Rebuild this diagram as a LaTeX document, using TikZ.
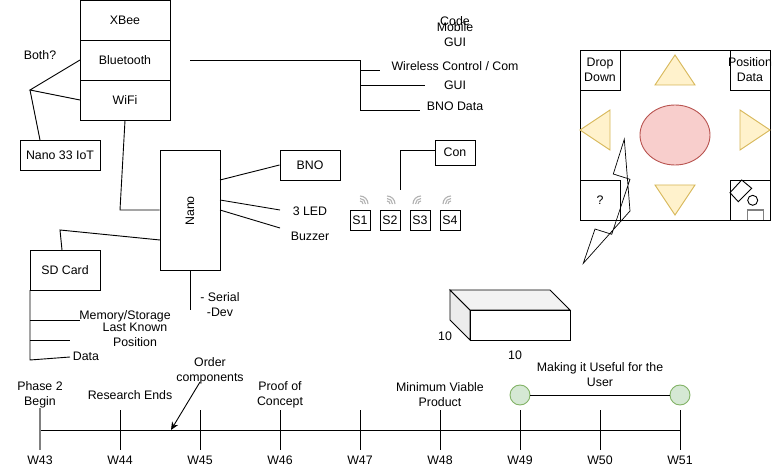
\documentclass[tikz,border=0pt]{standalone}
\usepackage{fontspec}
\setmainfont{Liberation Sans}
\usepackage{xcolor}
\usetikzlibrary{shapes,arrows,arrows.meta,positioning,calc}
\definecolor{yelFill}{HTML}{FFF2CC}
\definecolor{yelLine}{HTML}{D6B656}
\definecolor{redFill}{HTML}{F8CECC}
\definecolor{redLine}{HTML}{B85450}
\definecolor{grnFill}{HTML}{D5E8D4}
\definecolor{grnLine}{HTML}{82B366}

\begin{document}
\begin{tikzpicture}[
  x=1pt, y=-1pt, line width=0.9pt,
  font=\fontsize{12.35}{15}\selectfont,
  box/.style={rectangle, draw, inner sep=0pt, align=center},
  lbl/.style={inner sep=0pt, align=center},
  tri/.style={draw=yelLine, fill=yelFill, line join=miter},
  dot/.style={circle, draw=grnLine, fill=grnFill, minimum size=20pt, inner sep=0pt},
  sig/.style={gray!60, line width=1.1pt},
  arr/.style={-{Stealth[length=8pt,width=7pt]}}
]
\useasboundingbox (0,0) rectangle (772,476);

\node[box, minimum width=90pt, minimum height=40pt] (xbee) at (125,20)  {XBee};
\node[box, minimum width=90pt, minimum height=40pt] (blue) at (125,60)  {Bluetooth};
\node[box, minimum width=90pt, minimum height=40pt] (wifi) at (125,100) {WiFi};
\node[box, minimum width=80pt, minimum height=30pt] (iot)  at (60,155)  {Nano 33 IoT};
\node[lbl] (both) at (40,55) {Both?};
\node[box, minimum width=60pt, minimum height=120pt] (nano) at (190,210) {};
\node[lbl, rotate=90] (nanotxt) at (190,211) {Nano};
\node[box, minimum width=60pt, minimum height=30pt] (bno) at (310,165) {BNO};
\node[lbl] (led)    at (310,211) {3 LED};
\node[lbl] (buzzer) at (310,236) {Buzzer};
\node[box, minimum width=70pt, minimum height=40pt] (sd) at (65,270) {SD Card};
\node[lbl] (mem)  at (125,316) {Memory/Storage};
\node[lbl] (last) at (135,335) {Last Known\\Position};
\node[lbl] (data) at (86,356)  {Data};
\node[lbl] (serial) at (220,305) {- Serial\\-Dev};

\node[lbl] (code)   at (455,21) {Code};
\node[lbl] (mobile) at (455,35) {Mobile\\GUI};
\node[lbl] (wcom)   at (455,66) {Wireless Control / Com};
\node[lbl] (gui)    at (455,85) {GUI};
\node[lbl] (bnod)   at (455,106) {BNO Data};

\node[box, minimum width=40pt, minimum height=25pt] (con) at (455,152.5) {Con};
\node[box, minimum width=20pt, minimum height=20pt] (s1) at (360,220) {S1};
\node[box, minimum width=20pt, minimum height=20pt] (s2) at (390,220) {S2};
\node[box, minimum width=20pt, minimum height=20pt] (s3) at (420,220) {S3};
\node[box, minimum width=20pt, minimum height=20pt] (s4) at (450,220) {S4};

\coordinate (fork) at (30,90);
\coordinate (wifiend) at (120,210);
\coordinate (blueA) at (80,60);
\coordinate (wifiA) at (80,100);
\coordinate (iotA) at (40,140);
\coordinate (nanoA) at (220,180);
\coordinate (nanoB) at (220,200);
\coordinate (nanoC) at (220,210);
\coordinate (ledend) at (280,210);
\coordinate (buzend) at (280,228);
\coordinate (nanoD) at (160,240);
\coordinate (sdbend) at (60,230);
\coordinate (sdtop) at (62,250);
\coordinate (sdA) at (30,290);
\coordinate (sdB) at (30,320);
\coordinate (sdC) at (30,340);
\coordinate (sdD) at (30,360);
\coordinate (serend) at (190,310);
\coordinate (bus) at (190,60);
\coordinate (busA) at (360,60);
\coordinate (busB) at (360,70);
\coordinate (busC) at (360,85);
\coordinate (busD) at (360,110);
\coordinate (conA) at (435,150);
\coordinate (conend) at (400,190);

\draw (blueA) -- (fork) -- (wifiA);
\draw (fork) -- (iotA);
\draw (wifi.south) -- (wifiend) -- (nano.west);
\draw (nanoA) -- (bno.west);
\draw (nanoB) -- (ledend);
\draw (nanoC) -- (buzend);
\draw (nanoD) -- (sdbend) -- (sdtop);
\draw (sdA) -- (sdD) -- (70,357);
\draw (sdB) -- (80,320);
\draw (sdC) -- (70,340);
\draw (nano.south) -- (serend);
\draw (bus) -- (busA) -- (busD) -- (420,110);
\draw (busB) -- (380,70);
\draw (busC) -- (425,85);
\draw (conA) -- (400,150) -- (conend);

\foreach \ox in {360,387}
  \foreach \rr in {3,5.5,8}
    \draw[sig] ($(\ox,204)+(\rr pt,0pt)$) arc[start angle=0, end angle=90, radius=\rr pt];
\foreach \ox in {421,451}
  \foreach \rr in {3,5.5,8}
    \draw[sig] ($(\ox,204)+(0pt,\rr pt)$) arc[start angle=90, end angle=180, radius=\rr pt];

\node[box, minimum width=190pt, minimum height=170pt] (screen) at (675,135) {};
\node[box, minimum width=40pt, minimum height=40pt] (drop) at (600,70) {Drop\\Down};
\node[box, minimum width=40pt, minimum height=40pt] (pos)  at (750,70) {};
\node[lbl] (postxt) at (750,70) {Position\\Data};
\node[box, minimum width=40pt, minimum height=40pt] (quest) at (600,200) {?};
\node[box, minimum width=40pt, minimum height=40pt] (icons) at (750,200) {};
\node[ellipse, draw=redLine, fill=redFill, minimum width=70pt, minimum height=60pt] (joy) at (675,135) {};
\draw[tri] (675,55) -- (695,85) -- (655,85) -- cycle;
\draw[tri] (655,185) -- (695,185) -- (675,215) -- cycle;
\draw[tri] (580,130) -- (610,110) -- (610,150) -- cycle;
\draw[tri] (770,130) -- (740,110) -- (740,150) -- cycle;
\draw (741.7,180) -- (751.7,188.3) -- (738.3,201.7) -- (730,192.7) -- cycle;
\draw (752.7,200.3) circle[radius=5pt];
\draw[gray, line width=1.2pt] (747.7,220) -- (747.7,210) -- (763.3,210) -- (763.3,220);
\draw[line width=0.7pt] (624.3,139.3) -- (613.3,174) -- (630,179.3) -- (611.7,234.3)
  -- (595,229) -- (583.3,263.3) -- (630,211) -- cycle;

\draw[fill=gray!15] (450,290) -- (470,310) -- (470,340) -- (450,320) -- cycle;
\draw[fill=gray!10] (450,290) -- (550,290) -- (570,310) -- (470,310) -- cycle;
\node[box, minimum width=100pt, minimum height=30pt, fill=white] (brick) at (520,325) {};
\node[lbl] (depth) at (445,336) {10};
\node[lbl] (width) at (515,355) {10};

\coordinate (lineA) at (40,430);
\coordinate (lineB) at (680,430);
\draw (lineA) -- (lineB);
\draw[gray, line width=1.2pt] (40,408) -- (40,450);
\foreach \tx/\tn in {120/W44,200/W45,280/W46,360/W47,440/W48,520/W49,600/W50,680/W51}
  \draw (\tx,410) -- (\tx,450);
\foreach \tx/\tn in {40/W43,120/W44,200/W45,280/W46,360/W47,440/W48,520/W49,600/W50,680/W51}
  \node[lbl] (\tn) at (\tx,460) {\tn};

\node[lbl] (phase)  at (40,395)  {Phase 2\\Begin};
\node[lbl] (resend) at (130,395) {Research Ends};
\node[lbl] (order)  at (210,370.5) {Order\\components};
\node[lbl] (proof)  at (280,395) {Proof of\\Concept};
\node[lbl] (mvp)    at (440,395) {Minimum Viable\\Product};
\node[lbl] (useful) at (600,375) {Making it Useful for the\\User};

\node[dot] (start) at (520,395) {};
\node[dot] (stop)  at (680,395) {};
\draw (start) -- (stop);

\coordinate (ordstart) at (200,382);
\coordinate (ordend) at (171,430);
\draw[arr] (ordstart) -- (ordend);
\end{tikzpicture}
\end{document}
